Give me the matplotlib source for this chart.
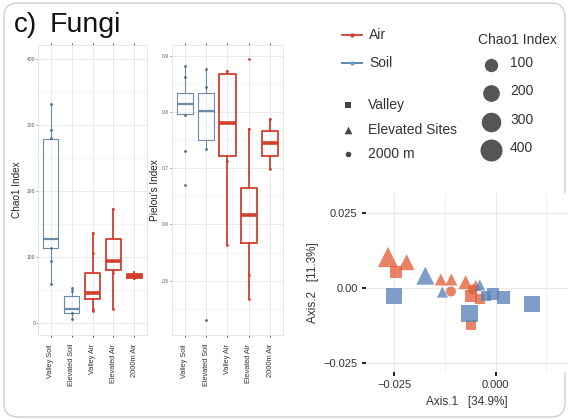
import numpy as np
import matplotlib
matplotlib.use("Agg")
import matplotlib.pyplot as plt
from matplotlib.patches import FancyBboxPatch
from matplotlib.lines import Line2D

plt.rcParams['font.family'] = ['Liberation Sans', 'DejaVu Sans']

W, H = 568, 420

# ---------------- data ----------------
groups = ["Valley Soil", "Elevated Soil", "Valley Air", "Elevated Air", "2000m Air"]
habitat = ["Soil", "Soil", "Air", "Air", "Air"]

# Chao1 box statistics
chao_whislo = [59, 6, 19, 22, 67]
chao_q1 = [113, 15, 36, 81, 69]
chao_med = [128, 21, 45, 94, 72]
chao_q3 = [279, 41, 76, 127, 75]
chao_whishi = [332, 53, 136, 172, 77]
chao_points = [
    [59, 94, 113, 280, 292, 332],
    [6, 15, 48, 53],
    [19, 22, 106, 136],
    [22, 76, 81, 172],
    [69, 72, 75],
]

# Pielou box statistics
piel_whislo = [0.795, 0.735, 0.564, 0.467, 0.699]
piel_q1 = [0.796, 0.750, 0.722, 0.567, 0.722]
piel_med = [0.815, 0.802, 0.780, 0.616, 0.744]
piel_q3 = [0.834, 0.834, 0.867, 0.664, 0.766]
piel_whishi = [0.882, 0.876, 0.873, 0.769, 0.787]
piel_points = [
    [0.670, 0.731, 0.795, 0.862, 0.882],
    [0.430, 0.735, 0.844, 0.876],
    [0.564, 0.712, 0.873],
    [0.467, 0.511, 0.769, 0.895],
    [0.699, 0.787],
]

# PCoA ordination
pc_x = [-0.0265, -0.0219, -0.0135, -0.0109, -0.0074, -0.0049,
        -0.0246, -0.0060, -0.0039, -0.0060,
        -0.0110, -0.0056,
        -0.0173, -0.0131, -0.0039,
        -0.0250, -0.0064, -0.0006, 0.0019, 0.0090, -0.0023]
pc_y = [0.0104, 0.0087, 0.0029, 0.0029, 0.0020, 0.0009,
        0.0054, -0.0025, -0.0036, -0.0123,
        -0.0011, -0.0004,
        0.0042, -0.0013, 0.0011,
        -0.0027, -0.0086, -0.0019, -0.0030, -0.0052, -0.0025]
pc_type = ["Air"] * 12 + ["Soil"] * 9
pc_site = (["Elevated Sites"] * 6 + ["Valley"] * 4 + ["2000 m"] * 2
           + ["Elevated Sites"] * 3 + ["Valley"] * 6)
pc_chao = [174, 85, 15, 15, 47, 2,
           68, 68, 25, 25,
           25, 25,
           127, 2, 0,
           177, 209, 68, 92, 177, 25]

size_levels = [100, 200, 300, 400]
axis1_pct, axis2_pct = 34.9, 11.3

# ---------------- styles ----------------
box_col = {"Soil": "#6a8ca8", "Air": "#d23f2e"}
pt_col = {"Soil": "#4f6e86", "Air": "#d23f2e"}
box_lw = {"Soil": 0.8, "Air": 1.3}
pc_col = {"Air": "#e2603a", "Soil": "#5a82ba"}
shape = {"Valley": "s", "Elevated Sites": "^", "2000 m": "o"}
shape_scale = {"Valley": 1.0, "Elevated Sites": 1.6, "2000 m": 1.0}


def chao_to_s(c):
    # marker area grows linearly with Chao1
    d2_px = 74.7 + 1.023 * np.asarray(c, dtype=float)
    return d2_px * 0.5184


fig = plt.figure(figsize=(W / 100, H / 100), dpi=100)


def px_axes(l, r, t, b):
    return fig.add_axes([l / W, (H - b) / H, (r - l) / W, (b - t) / H])


def box_panel(ax, lo, q1, med, q3, hi, pts, ylim, major, minor, fmt, ylabel):
    pos = np.arange(1, len(groups) + 1)
    for y in minor:
        ax.axhline(y, color="#f2f2f2", lw=0.5, zorder=0)
    for y in major:
        ax.axhline(y, color="#e6e6e6", lw=0.6, zorder=0)
    for x in pos:
        ax.axvline(x, color="#e6e6e6", lw=0.6, zorder=0)
    for i, p in enumerate(pos):
        h = habitat[i]
        stats = [dict(med=med[i], q1=q1[i], q3=q3[i], whislo=lo[i], whishi=hi[i], fliers=[])]
        ax.bxp(stats, positions=[p], widths=0.75, showcaps=False, showfliers=False,
               boxprops=dict(color=box_col[h], lw=box_lw[h]),
               whiskerprops=dict(color=box_col[h], lw=box_lw[h]),
               medianprops=dict(color=box_col[h], lw=box_lw[h] * 2),
               manage_ticks=False, zorder=2)
        ax.scatter([p] * len(pts[i]), pts[i], s=4, color=pt_col[h], zorder=3, lw=0)
    ax.set_xlim(0.4, 5.6)
    ax.set_ylim(*ylim)
    ax.set_yticks(major)
    ax.set_yticklabels([fmt(v) for v in major])
    ax.set_xticks(pos)
    ax.set_xticklabels(groups, rotation=90, va="top", ha="center")
    ax.tick_params(axis="y", labelsize=3.6, length=1.2, width=0.4, pad=0.8,
                   colors="#555555")
    ax.tick_params(axis="x", labelsize=5.3, length=1.5, width=0.6, pad=5,
                   colors="#333333", top=True)
    for s in ax.spines.values():
        s.set_color("#e3e3e3")
        s.set_linewidth(0.6)
    ax.set_ylabel(ylabel, fontsize=7.2, color="#222222")


ax1 = px_axes(38, 147, 45, 335)
box_panel(ax1, chao_whislo, chao_q1, chao_med, chao_q3, chao_whishi, chao_points,
          (-18, 421), [0, 100, 200, 300, 400], [50, 150, 250, 350],
          lambda v: f"{v:d}", "Chao1 Index")
ax1.yaxis.set_label_coords(-0.147, 0.5)

ax2 = px_axes(172, 283, 45, 335)
box_panel(ax2, piel_whislo, piel_q1, piel_med, piel_q3, piel_whishi, piel_points,
          (0.4035, 0.919), [0.5, 0.6, 0.7, 0.8, 0.9], [0.45, 0.55, 0.65, 0.75, 0.85],
          lambda v: f"{v:.1f}", "Pielou's Index")
ax2.yaxis.set_label_coords(-0.11, 0.5)

# ---------------- PCoA ----------------
ax3 = px_axes(366, 568, 193, 372)
for x in [-0.0125, 0.0125]:
    ax3.axvline(x, color="#f0f0f0", lw=0.6, zorder=0)
for x in [-0.025, 0.0]:
    ax3.axvline(x, color="#e8e8e8", lw=0.8, zorder=0)
for y in [-0.025, 0.0, 0.025]:
    ax3.axhline(y, color="#e8e8e8", lw=0.8, zorder=0)

pc_x_a, pc_y_a, pc_c_a = np.array(pc_x), np.array(pc_y), np.array(pc_chao)
for t in ["Air", "Soil"]:
    for site in ["Valley", "Elevated Sites", "2000 m"]:
        m = np.array([(a == t and b == site) for a, b in zip(pc_type, pc_site)])
        if not m.any():
            continue
        ax3.scatter(pc_x_a[m], pc_y_a[m], s=chao_to_s(pc_c_a[m]) * shape_scale[site],
                    marker=shape[site], color=pc_col[t], alpha=0.78, lw=0, zorder=3)

ax3.set_xlim(-0.0319, 0.0178)
ax3.set_ylim(-0.028, 0.0318)
ax3.set_xticks([-0.025, 0.0])
ax3.set_xticklabels(["\u22120.025", "0.000"])
ax3.set_yticks([-0.025, 0.0, 0.025])
ax3.set_yticklabels(["\u22120.025", "0.00", "0.025"])
ax3.tick_params(labelsize=8, length=3, width=1.3, colors="#111111", labelcolor="#333333", pad=3)
for s in ax3.spines.values():
    s.set_visible(False)
ax3.set_xlabel(f"Axis.1   [{axis1_pct}%]", fontsize=8.5, color="#333333", labelpad=4)
ax3.set_ylabel(f"Axis.2   [{axis2_pct}%]", fontsize=8.5, color="#333333", labelpad=3)

# ---------------- overlay: frame, title, legends ----------------
ov = fig.add_axes([0, 0, 1, 1], zorder=-1)
ov.set_xlim(0, W)
ov.set_ylim(H, 0)
ov.axis("off")
ov.add_patch(FancyBboxPatch((4, 3), 561, 414, boxstyle="round,pad=0,rounding_size=14",
                            fill=False, ec="#cfcfcf", lw=1.0))

top = fig.add_axes([0, 0, 1, 1], zorder=5)
top.set_xlim(0, W)
top.set_ylim(H, 0)
top.axis("off")
top.patch.set_alpha(0)
top.text(14, 32, "c)", fontsize=20, color="#111111", va="baseline")
top.text(50, 32, "Fungi", fontsize=20.5, color="#111111", va="baseline")

for label, y in [("Air", 35), ("Soil", 63)]:
    top.add_line(Line2D([342, 362], [y, y], color=box_col[label] if label == "Air" else "#4f7fb0",
                        lw=1.3))
    top.scatter([352], [y], s=9, color=box_col[label] if label == "Air" else "#6f9ccc",
                zorder=3, lw=0)
    top.text(369, y, label, fontsize=10, color="#333333", va="center")

for site, y, s in [("Valley", 105, 22), ("Elevated Sites", 130, 30), ("2000 m", 154, 16)]:
    top.scatter([348], [y], s=s, marker=shape[site], color="#444444", lw=0)
    top.text(368, y, site, fontsize=10, color="#333333", va="center")

top.text(517, 40, "Chao1 Index", fontsize=10, color="#333333", ha="center", va="center")
for lvl, y in zip(size_levels, [65, 93, 122, 150]):
    top.scatter([491], [y], s=chao_to_s(lvl), color="#555555", lw=0)
    top.text(510, y - 2, str(lvl), fontsize=10, color="#333333", va="center")

fig.savefig("out.png", dpi=100)
